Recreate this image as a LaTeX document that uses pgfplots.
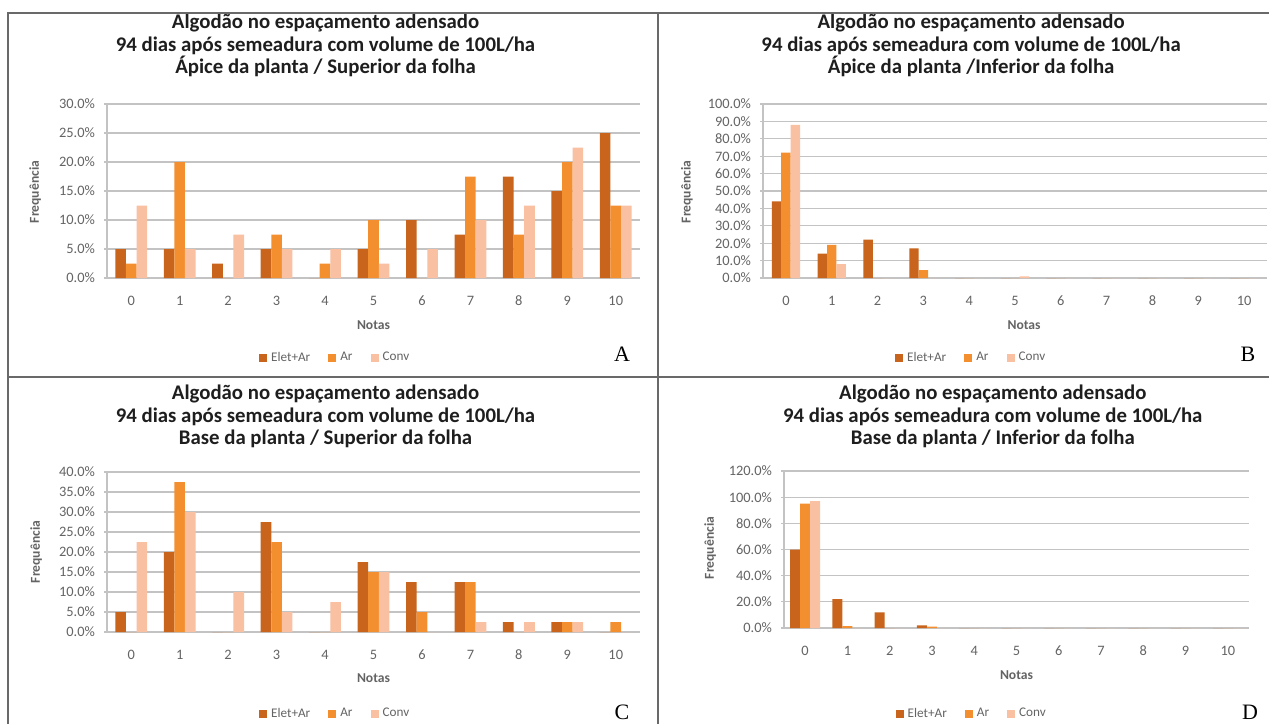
\documentclass[border=0pt]{standalone}
\usepackage{fontspec}
\setmainfont{Carlito}
\newfontfamily\timesfont{Liberation Serif}
\usepackage{pgfplots}
\usepackage{pgfplotstable}
\pgfplotsset{compat=1.18}
\definecolor{cElet}{RGB}{200,100,28}
\definecolor{cAr}{RGB}{244,143,48}
\definecolor{cConv}{RGB}{249,192,162}
\definecolor{cGrid}{RGB}{195,195,195}
\definecolor{cTick}{RGB}{100,100,100}
\definecolor{cTitle}{RGB}{30,30,30}
\definecolor{cFrame}{RGB}{105,105,105}

\pgfplotstableread{
x e a c
0 5 2.5 12.5
1 5 20 5
2 2.5 0 7.5
3 5 7.5 5
4 0 2.5 5
5 5 10 2.5
6 10 0 5
7 7.5 17.5 10
8 17.5 7.5 12.5
9 15 20 22.5
10 25 12.5 12.5
}\dataA
\pgfplotstableread{
x e a c
0 44 72 88
1 14 19 8
2 22 0 0
3 17 4.5 0
4 0 0 0
5 0 0 1
6 0 0 0
7 0 0 0
8 0 0 0
9 0 0 0
10 0 0 0
}\dataB
\pgfplotstableread{
x e a c
0 5 0 22.5
1 20 37.5 30
2 0 0 10
3 27.5 22.5 5
4 0 0 7.5
5 17.5 15 15
6 12.5 5 0
7 12.5 12.5 2.5
8 2.5 0 2.5
9 2.5 2.5 2.5
10 0 2.5 0
}\dataC
\pgfplotstableread{
x e a c
0 60 95 97
1 22 1.5 0
2 12 0 0
3 2 1 0
4 0 0 0
5 0 0 0
6 0 0 0
7 0 0 0
8 0 0 0
9 0 0 0
10 0 0 0
}\dataD

\pgfplotsset{
  panel/.style={
    scale only axis, ybar=0pt, ymin=0, xmin=-0.5, xmax=10.5,
    xtick={0,...,10}, axis x line*=bottom, axis y line*=left,
    ymajorgrids, grid style={cGrid, line width=0.6pt},
    axis line style={cGrid, line width=0.6pt},
    tick align=outside, major tick length=1.5pt,
    xtick style={draw=none}, ytick style={cGrid, line width=0.6pt},
    /pgf/number format/assume math mode=true,
    tick label style={font=\fontsize{7.2}{8}\selectfont, text=cTick},
    xticklabel style={yshift=-4pt},
    yticklabel style={xshift=-1pt},
    yticklabel={\pgfmathprintnumber[fixed,fixed zerofill,precision=1]{\tick}\%},
    xlabel={Notas}, ylabel={Frequência},
    label style={font=\fontsize{6.8}{8}\selectfont\bfseries, text=cTick},
    title style={font=\fontsize{10.4}{11.3}\selectfont\bfseries, text=cTitle, align=center, anchor=center},
    legend style={draw=none, fill=none, legend columns=3, font=\fontsize{6.6}{8}\selectfont, text=cTick, anchor=center,
      /tikz/every even column/.append style={column sep=7pt}},
    legend image code/.code={\fill[##1] (0pt,-2pt) rectangle (4pt,2pt);},
    anchor=south west,
  },
}

\begin{document}
\begin{tikzpicture}[x=0.5pt,y=-0.5pt]
\useasboundingbox (0,0) rectangle (1269,724);
\fill[white] (0,0) rectangle (1269,724);
\coordinate (A0) at (107,278);
\coordinate (B0) at (763,278);
\coordinate (C0) at (107,632);
\coordinate (D0) at (784,628);

% Panel A
\begin{axis}[panel, at={(A0)}, width=266.5pt, height=87pt, bar width=5.3pt,
  ymax=30, ytick={0,5,...,30},
  title={Algodão no espaçamento adensado\\94 dias após semeadura com volume de 100L/ha\\Ápice da planta / Superior da folha},
  title style={at={(axis description cs:0.41,1.267)}},
  xlabel style={at={(axis description cs:0.5,-0.27)}, anchor=center},
  ylabel style={at={(axis description cs:-0.135,0.494)}, anchor=center},
  legend style={at={(axis description cs:0.43,-0.46)}}]
\addplot[fill=cElet, draw=none] table[x=x,y=e]{\dataA};
\addplot[fill=cAr, draw=none] table[x=x,y=a]{\dataA};
\addplot[fill=cConv, draw=none] table[x=x,y=c]{\dataA};
\legend{Elet+Ar, Ar, Conv}
\end{axis}

% Panel B
\begin{axis}[panel, at={(B0)}, width=252pt, height=87pt, bar width=4.7pt,
  ymax=100, ytick={0,10,...,100},
  title={Algodão no espaçamento adensado\\94 dias após semeadura com volume de 100L/ha\\Ápice da planta /Inferior da folha},
  title style={at={(axis description cs:0.413,1.267)}},
  xlabel style={at={(axis description cs:0.518,-0.27)}, anchor=center},
  ylabel style={at={(axis description cs:-0.151,0.494)}, anchor=center},
  legend style={at={(axis description cs:0.415,-0.46)}}]
\addplot[fill=cElet, draw=none] table[x=x,y=e]{\dataB};
\addplot[fill=cAr, draw=none] table[x=x,y=a]{\dataB};
\addplot[fill=cConv, draw=none] table[x=x,y=c]{\dataB};
\legend{Elet+Ar, Ar, Conv}
\end{axis}

% Panel C
\begin{axis}[panel, at={(C0)}, width=266.5pt, height=80pt, bar width=5.3pt,
  ymax=40, ytick={0,5,...,40},
  title={Algodão no espaçamento adensado\\94 dias após semeadura com volume de 100L/ha\\Base da planta / Superior da folha},
  title style={at={(axis description cs:0.41,1.272)}},
  xlabel style={at={(axis description cs:0.5,-0.2875)}, anchor=center},
  ylabel style={at={(axis description cs:-0.133,0.5)}, anchor=center},
  legend style={at={(axis description cs:0.43,-0.5125)}}]
\addplot[fill=cElet, draw=none] table[x=x,y=e]{\dataC};
\addplot[fill=cAr, draw=none] table[x=x,y=a]{\dataC};
\addplot[fill=cConv, draw=none] table[x=x,y=c]{\dataC};
\legend{Elet+Ar, Ar, Conv}
\end{axis}

% Panel D
\begin{axis}[panel, at={(D0)}, width=232.5pt, height=78.5pt, bar width=5pt,
  ymax=120, ytick={0,20,...,120},
  title={Algodão no espaçamento adensado\\94 dias após semeadura com volume de 100L/ha\\Base da planta / Inferior da folha},
  title style={at={(axis description cs:0.449,1.271)}},
  xlabel style={at={(axis description cs:0.5,-0.30)}, anchor=center},
  ylabel style={at={(axis description cs:-0.159,0.51)}, anchor=center},
  legend style={at={(axis description cs:0.406,-0.548)}}]
\addplot[fill=cElet, draw=none] table[x=x,y=e]{\dataD};
\addplot[fill=cAr, draw=none] table[x=x,y=a]{\dataD};
\addplot[fill=cConv, draw=none] table[x=x,y=c]{\dataD};
\legend{Elet+Ar, Ar, Conv}
\end{axis}

% frame
\draw[cFrame, line width=1pt] (8,724) -- (8,12.7) -- (1269,12.7);
\draw[cFrame, line width=1pt] (658,12.7) -- (658,724);
\draw[cFrame, line width=1pt] (8,377) -- (1269,377);
\begin{scope}[font=\timesfont\fontsize{11}{13}\selectfont]
\node at (622,354) {A};
\node at (1248,354) {B};
\node at (622,712) {C};
\node at (1250,712) {D};
\end{scope}
\end{tikzpicture}
\end{document}
